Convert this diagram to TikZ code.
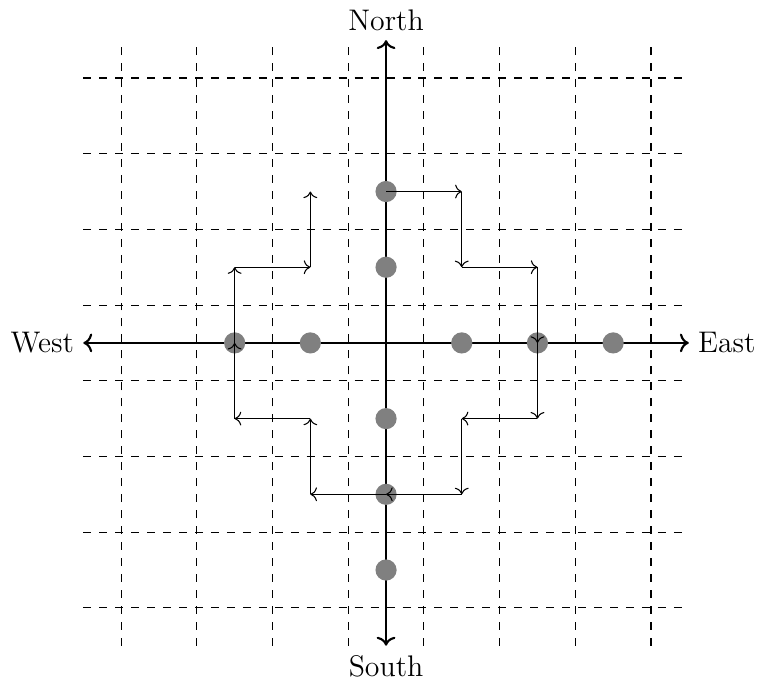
\documentclass[tikz,border=0pt]{standalone}
\usepackage{tikz}
\usetikzlibrary{arrows.meta, positioning, calc}

\begin{document}
\begin{tikzpicture}[
    grid/.style={dashed, thin},
    axis/.style={<->, thick},
    label/.style={font=\fontsize{11.2pt}{13pt}\selectfont},
    dot/.style={circle, fill=gray, minimum size=0.28cm, inner sep=0pt},
    hop/.style={->, thin}
]
\useasboundingbox (-5.1,-4.49) rectangle (4.94,4.53);
% grid
\foreach \x in {-3.5,-2.5,-1.5,-0.5,0.5,1.5,2.5,3.5} {
    \draw[grid] (\x,-4) -- (\x,4);
    \draw[grid] (-4,\x) -- (4,\x);
}
% axes
\coordinate (w) at (-4,0);
\coordinate (e) at (4,0);
\coordinate (n) at (0,4);
\coordinate (s) at (0,-4);
\draw[axis] (w) -- (e);
\draw[axis] (s) -- (n);
\node[label, left]  (west)  at (w) {West};
\node[label, right] (east)  at (e) {East};
\node[label, above] (north) at (n) {North};
\node[label, below] (south) at (s) {South};
% dots
\node[dot] (n2) at (0,2) {};
\node[dot] (n1) at (0,1) {};
\node[dot] (s1) at (0,-1) {};
\node[dot] (s2) at (0,-2) {};
\node[dot] (s3) at (0,-3) {};
\node[dot] (w2) at (-2,0) {};
\node[dot] (w1) at (-1,0) {};
\node[dot] (e1) at (1,0) {};
\node[dot] (e2) at (2,0) {};
\node[dot] (e3) at (3,0) {};
% corners
\coordinate (a1) at (1,2);
\coordinate (a2) at (1,1);
\coordinate (a3) at (2,1);
\coordinate (a4) at (2,-1);
\coordinate (a5) at (1,-1);
\coordinate (a6) at (1,-2);
\coordinate (a7) at (-1,-2);
\coordinate (a8) at (-1,-1);
\coordinate (a9) at (-2,-1);
\coordinate (a10) at (-2,1);
\coordinate (a11) at (-1,1);
\coordinate (a12) at (-1,2);
% path
\draw[hop] (n2.center) -- (a1);
\draw[hop] (a1) -- (a2);
\draw[hop] (a2) -- (a3);
\draw[hop] (a3) -- (e2.center);
\draw[hop] (e2.center) -- (a4);
\draw[hop] (a4) -- (a5);
\draw[hop] (a5) -- (a6);
\draw[hop] (a6) -- (s2.center);
\draw[hop] (s2.center) -- (a7);
\draw[hop] (a7) -- (a8);
\draw[hop] (a8) -- (a9);
\draw[hop] (a9) -- (w2.center);
\draw[hop] (w2.center) -- (a10);
\draw[hop] (a10) -- (a11);
\draw[hop] (a11) -- (a12);
\end{tikzpicture}
\end{document}
